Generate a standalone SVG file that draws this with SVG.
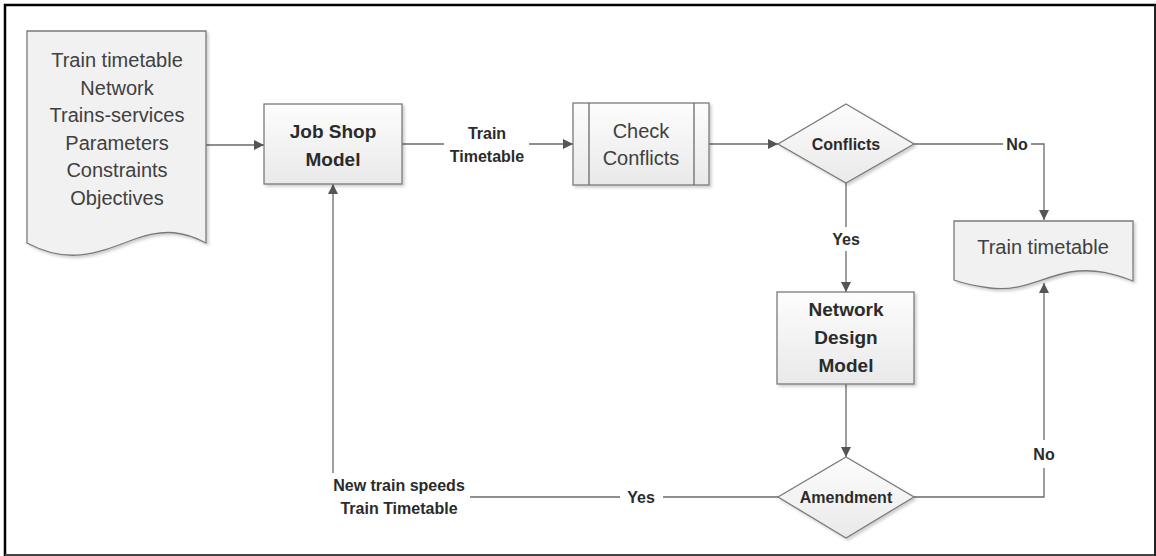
<svg xmlns="http://www.w3.org/2000/svg" width="1156" height="556" viewBox="0 0 1156 556">
<defs>
<linearGradient id="g" x1="0" y1="0" x2="0" y2="1">
<stop offset="0" stop-color="#fdfdfd"/>
<stop offset="1" stop-color="#e9e9e9"/>
</linearGradient>
<filter id="sh" x="-10%" y="-10%" width="130%" height="130%">
<feGaussianBlur in="SourceAlpha" stdDeviation="1.5"/>
<feOffset dx="2" dy="2" result="b"/>
<feComponentTransfer><feFuncA type="linear" slope="0.2"/></feComponentTransfer>
<feMerge><feMergeNode/><feMergeNode in="SourceGraphic"/></feMerge>
</filter>
<marker id="ar" viewBox="0 0 10 10" refX="10" refY="5" markerWidth="10" markerHeight="10" markerUnits="userSpaceOnUse" orient="auto">
<path d="M0,0 L10,5 L0,10 z" fill="#555"/>
</marker>
</defs>
<style>
.shape{fill:url(#g);stroke:#7a7a7a;stroke-width:1.3;filter:url(#sh)}
.doc{fill:#f1f1f1;stroke:#7a7a7a;stroke-width:1.3;filter:url(#sh)}
.line{fill:none;stroke:#6a6a6a;stroke-width:1.3}
.t{font-family:"Liberation Sans",Arial,sans-serif;font-size:20px;fill:#404040;text-anchor:middle}
.b{font-family:"Liberation Sans",Arial,sans-serif;font-weight:bold;font-size:19px;fill:#2b2b2b;text-anchor:middle}
.l{font-family:"Liberation Sans",Arial,sans-serif;font-weight:bold;font-size:16px;fill:#2b2b2b;text-anchor:middle}
</style>
<rect x="0" y="0" width="1156" height="556" fill="#ffffff"/>
<path d="M5,556 V5 H1156" fill="none" stroke="#000" stroke-width="2.5"/>
<line x1="5" y1="555" x2="1156" y2="555" stroke="#444" stroke-width="2"/>
<line x1="1155" y1="5" x2="1155" y2="556" stroke="#222" stroke-width="2"/>

<g id="connectors">
<line class="line" x1="206" y1="145" x2="264" y2="145" marker-end="url(#ar)"/>
<line class="line" x1="402" y1="144" x2="444" y2="144"/>
<line class="line" x1="529" y1="144" x2="573" y2="144" marker-end="url(#ar)"/>
<line class="line" x1="709" y1="144" x2="778" y2="144" marker-end="url(#ar)"/>
<polyline class="line" points="914,144 1003,144"/>
<polyline class="line" points="1031,144 1044,144 1044,220" marker-end="url(#ar)"/>
<line class="line" x1="846" y1="183" x2="846" y2="227"/>
<line class="line" x1="846" y1="251" x2="846" y2="292" marker-end="url(#ar)"/>
<line class="line" x1="846" y1="384" x2="846" y2="457" marker-end="url(#ar)"/>
<polyline class="line" points="914,497 1044,497 1044,468"/>
<line class="line" x1="1044" y1="440" x2="1044" y2="283" marker-end="url(#ar)"/>
<line class="line" x1="778" y1="497" x2="663" y2="497"/>
<line class="line" x1="620" y1="497" x2="470" y2="497"/>
<line class="line" x1="333" y1="473" x2="333" y2="184" marker-end="url(#ar)"/>
<text class="l" x="487" y="139">Train</text>
<text class="l" x="487" y="162">Timetable</text>
<text class="l" x="1017" y="150">No</text>
<text class="l" x="846" y="245">Yes</text>
<text class="l" x="1044" y="460">No</text>
<text class="l" x="641" y="503">Yes</text>
<text class="l" x="399" y="491">New train speeds</text>
<text class="l" x="399" y="514">Train Timetable</text>
</g>

<g id="input-doc">
<path class="doc" d="M27,31 H206 V243 C185,232 165,228 135,239 C100,252 70,266 27,243 Z"/>
<text class="t" x="117" y="67">Train timetable</text>
<text class="t" x="117" y="94.5">Network</text>
<text class="t" x="117" y="122">Trains-services</text>
<text class="t" x="117" y="149.5">Parameters</text>
<text class="t" x="117" y="177">Constraints</text>
<text class="t" x="117" y="204.5">Objectives</text>
</g>

<g id="job-shop">
<rect class="shape" x="264" y="104" width="138" height="80"/>
<text class="b" x="333" y="138">Job Shop</text>
<text class="b" x="333" y="166">Model</text>
</g>

<g id="check-conflicts">
<rect class="shape" x="573" y="103" width="136" height="82"/>
<line class="line" x1="589" y1="103" x2="589" y2="185" stroke="#7a7a7a"/>
<line class="line" x1="694" y1="103" x2="694" y2="185" stroke="#7a7a7a"/>
<text class="t" x="641" y="138">Check</text>
<text class="t" x="641" y="165">Conflicts</text>
</g>

<g id="conflicts">
<polygon class="shape" points="846,104 914,144 846,183 778,144"/>
<text class="l" x="846" y="150">Conflicts</text>
</g>

<g id="network-design">
<rect class="shape" x="777" y="292" width="137" height="92"/>
<text class="b" x="846" y="316">Network</text>
<text class="b" x="846" y="344">Design</text>
<text class="b" x="846" y="372">Model</text>
</g>

<g id="amendment">
<polygon class="shape" points="846,457 914,497 846,538 778,497"/>
<text class="l" x="846" y="503">Amendment</text>
</g>

<g id="output-doc">
<path class="doc" d="M954,221 H1133 V281 C1115,274 1095,268 1070,272 C1040,278 1020,292 990,288 C975,286 965,284 954,280 Z"/>
<text class="t" x="1043" y="254">Train timetable</text>
</g>
</svg>
